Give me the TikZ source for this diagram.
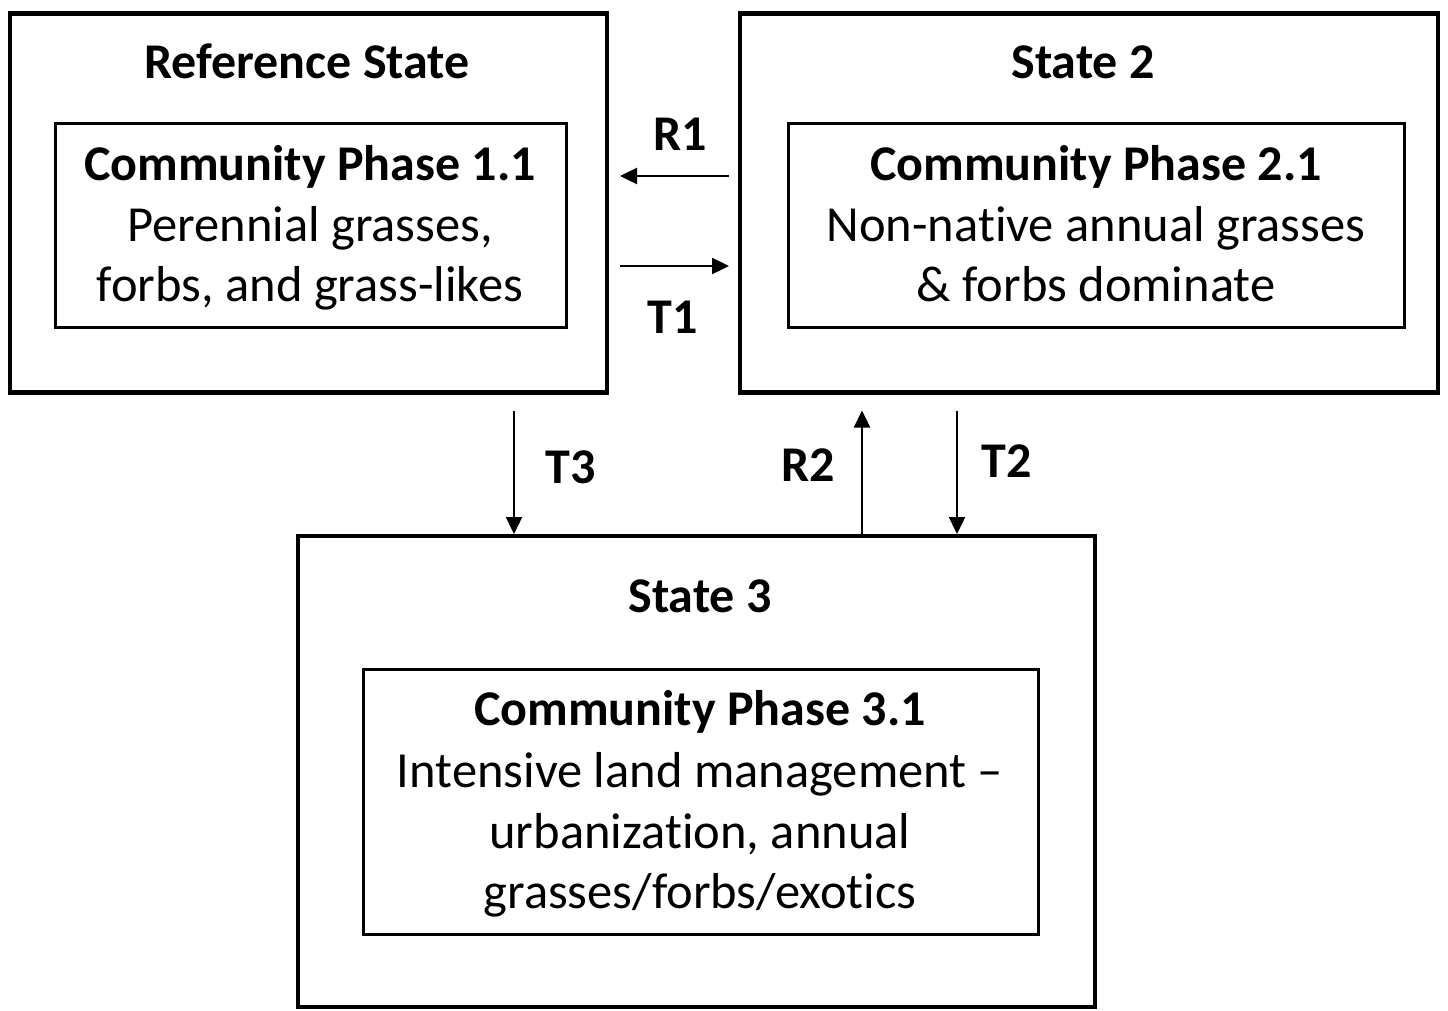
\documentclass[tikz,border=0pt]{standalone}
\usepackage{fontspec}
\setmainfont[Ligatures=NoCommon,RawFeature={-liga;-clig;-dlig}]{Carlito}
\usetikzlibrary{arrows.meta}
\begin{document}
\begin{tikzpicture}[x=1pt,y=-1pt,
  outerbox/.style={draw=black,line width=4.5pt,rectangle,inner sep=0pt,outer sep=0pt},
  innerbox/.style={draw=black,line width=3pt,rectangle,inner sep=0pt,outer sep=0pt},
  ttl/.style={font=\fontsize{50}{61}\selectfont\bfseries,anchor=base,inner sep=0pt},
  txt/.style={font=\fontsize{50.5}{61}\selectfont,anchor=base,inner sep=0pt},
  arr/.style={line width=2.4pt,-{Triangle[length=17pt,width=16pt]}}]
\useasboundingbox (0,0) rectangle (1448,1010);
% boxes
\node[outerbox,minimum width=597pt,minimum height=379pt] (ref) at (308.5,203) {};
\node[outerbox,minimum width=698pt,minimum height=379pt] (s2) at (1089,203) {};
\node[outerbox,minimum width=797pt,minimum height=471pt] (s3) at (696.5,771.5) {};
\node[innerbox,minimum width=511pt,minimum height=204pt] (p11) at (310.5,225) {};
\node[innerbox,minimum width=616pt,minimum height=204pt] (p21) at (1096,225) {};
\node[innerbox,minimum width=675pt,minimum height=265pt] (p31) at (700.5,801.5) {};
% titles
\node[ttl] (tref) at (307,78) {Reference State};
\node[ttl] (ts2) at (1083,78) {State 2};
\node[ttl] (ts3) at (700,612) {State 3};
% phase 1.1
\node[ttl] (h11) at (310,180) {Community Phase 1.1};
\node[txt] (a11) at (310,241) {Perennial grasses,};
\node[txt] (b11) at (310,301) {forbs, and grass-likes};
% phase 2.1
\node[ttl] (h21) at (1096,180) {Community Phase 2.1};
\node[txt] (a21) at (1096,241) {Non-native annual grasses};
\node[txt] (b21) at (1096,301) {\& forbs dominate};
% phase 3.1
\node[ttl] (h31) at (700,725) {Community Phase 3.1};
\node[txt] (a31) at (700,787) {Intensive land management –};
\node[txt] (b31) at (700,848) {urbanization, annual};
\node[txt] (c31) at (700,908) {grasses/forbs/exotics};
% connectors
\draw[arr,shorten <=11pt,shorten >=13pt] (s2.west |- 0,176) -- (ref.east |- 0,176);
\draw[arr,shorten <=13pt,shorten >=11pt] (ref.east |- 0,266) -- (s2.west |- 0,266);
\draw[arr,shorten <=18pt,shorten >=2pt] (ref.south -| 514,0) -- (s3.north -| 514,0);
\draw[arr,shorten <=0pt,shorten >=18pt] (s3.north -| 862,0) -- (s2.south -| 862,0);
\draw[arr,shorten <=18pt,shorten >=2pt] (s2.south -| 957,0) -- (s3.north -| 957,0);
% labels
\node[ttl] (lr1) at (680,150) {R1};
\node[ttl] (lt1) at (673,333) {T1};
\node[ttl] (lt3) at (571,483) {T3};
\node[ttl] (lr2) at (808,481) {R2};
\node[ttl] (lt2) at (1007,477) {T2};
\end{tikzpicture}
\end{document}
